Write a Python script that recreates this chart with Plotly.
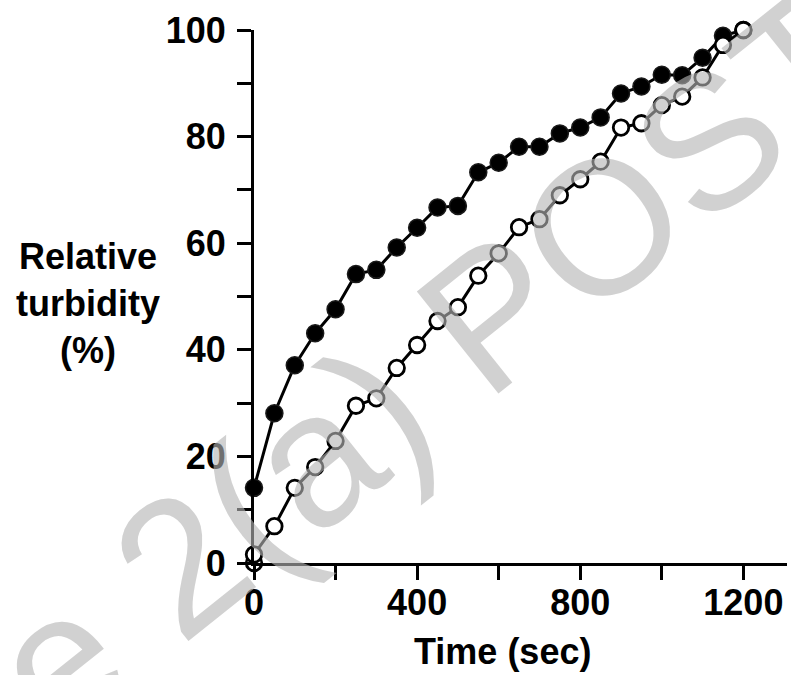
import plotly.graph_objects as go

# ---- data ----
time_filled = [0, 50, 100, 150, 200, 250, 300, 350, 400, 450, 500, 550, 600,
               650, 700, 750, 800, 850, 900, 950, 1000, 1050, 1100, 1150, 1200]
turb_filled = [14.1, 28.1, 37.1, 43.1, 47.6, 54.2, 55.0, 59.2, 62.9, 66.7, 67.0, 73.3, 75.1,
               78.1, 78.1, 80.6, 81.7, 83.6, 88.1, 89.4, 91.6, 91.5, 94.8, 98.9, 100.0]

time_open = [0, 0, 50, 100, 150, 200, 250, 300, 350, 400, 450, 500, 550, 600,
             650, 700, 750, 800, 850, 900, 950, 1000, 1050, 1100, 1150, 1200]
turb_open = [0.0, 1.6, 6.9, 14.1, 18.0, 22.9, 29.5, 30.9, 36.6, 40.9, 45.4, 48.0, 53.9, 58.1,
             63.0, 64.5, 69.0, 72.0, 75.3, 81.7, 82.5, 85.9, 87.5, 91.1, 97.2, 100.0]

x_tickvals = [0, 200, 400, 600, 800, 1000, 1200]
x_ticktext = ["0", "", "400", "", "800", "", "1200"]
y_tickvals = [0, 10, 20, 30, 40, 50, 60, 70, 80, 90, 100]
y_ticktext = ["0", "", "20", "", "40", "", "60", "", "80", "", "100"]

FONT = "Liberation Sans, Arial, Helvetica, sans-serif"
FS = 36

fig = go.Figure()
fig.add_trace(go.Scatter(
    x=time_filled, y=turb_filled, mode="lines+markers",
    line=dict(color="black", width=3),
    marker=dict(symbol="circle", size=17, color="black", line=dict(color="#1a1a1a", width=1.5)),
    cliponaxis=False, showlegend=False))
fig.add_trace(go.Scatter(
    x=time_open, y=turb_open, mode="lines+markers",
    line=dict(color="black", width=3),
    marker=dict(symbol="circle", size=15.5, color="white", line=dict(color="black", width=2.8)),
    cliponaxis=False, showlegend=False))

axis_common = dict(showgrid=False, zeroline=False, showline=True, linecolor="black",
                   linewidth=3, ticks="outside", ticklen=14, tickwidth=3, tickcolor="black",
                   automargin=False,
                   tickfont=dict(family=FONT, size=FS, color="black", weight="bold"))

fig.update_layout(
    width=791, height=675,
    margin=dict(l=254, r=4, t=30, b=112),
    paper_bgcolor="white", plot_bgcolor="white",
    xaxis=dict(range=[0, 1307], tickmode="array", tickvals=x_tickvals, ticktext=x_ticktext,
               ticklabelstandoff=-8, **axis_common),
    yaxis=dict(range=[0, 100], tickmode="array", tickvals=y_tickvals, ticktext=y_ticktext,
               ticklabelstandoff=4, **axis_common),
)

fig.add_annotation(text="Relative<br>turbidity<br>(%)", xref="paper", yref="paper",
                   x=(88 - 254) / 533, y=(563 - 303) / 533, xanchor="center", yanchor="middle",
                   showarrow=False, align="center",
                   font=dict(family=FONT, size=FS, color="black", weight="bold"))
fig.add_annotation(text="Time (sec)", xref="paper", yref="paper",
                   x=(502 - 254) / 533, y=(563 - 651) / 533, xanchor="center", yanchor="middle",
                   showarrow=False,
                   font=dict(family=FONT, size=FS, color="black", weight="bold"))

# watermark
fig.add_annotation(text="Figure 2(a) POST", xref="paper", yref="paper",
                   x=(263 - 254) / 533, y=(563 - 497) / 533, xanchor="center", yanchor="middle",
                   showarrow=False, textangle=-38.6,
                   font=dict(family=FONT, size=190, color="rgba(180,180,180,0.62)"))

fig.write_html("out.html", config={"displayModeBar": False},
               post_script="document.body.style.margin='0px';")
